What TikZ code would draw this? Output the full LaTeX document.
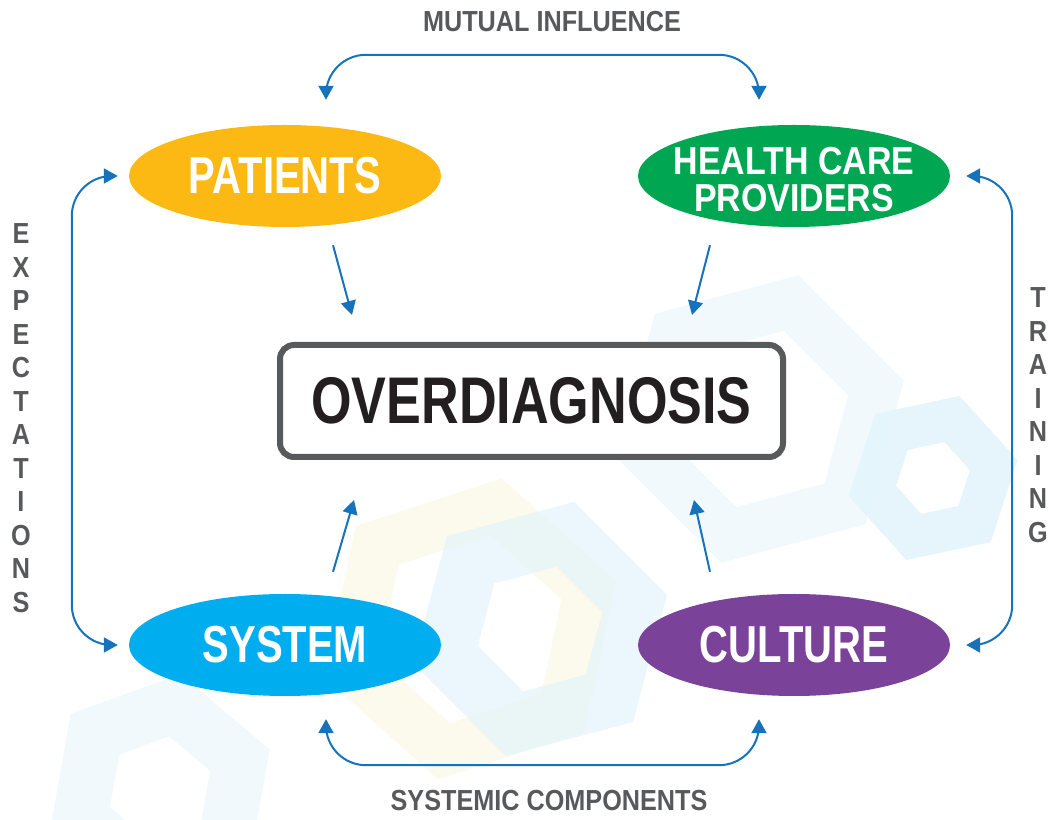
\documentclass[tikz,border=0pt]{standalone}
\usepackage{fontspec}
\setmainfont{Liberation Sans}
\newfontfamily\ovalfont{Liberation Sans}[FakeStretch=0.77]
\newfontfamily\titlefont{Liberation Sans}[FakeStretch=0.79]
\newfontfamily\widefont{Liberation Sans}[FakeStretch=0.87]
\usetikzlibrary{arrows.meta}
\usetikzlibrary{shapes.geometric}

\definecolor{patyellow}{HTML}{FDB913}
\definecolor{hcpgreen}{HTML}{00A651}
\definecolor{syscyan}{HTML}{00AEEF}
\definecolor{culpurple}{HTML}{7A4399}
\definecolor{linkblue}{HTML}{1672BA}
\definecolor{labelgray}{HTML}{58595B}
\definecolor{boxgray}{HTML}{58595B}
\definecolor{textblack}{HTML}{231F20}
\definecolor{hexblue}{HTML}{E3F4FB}
\definecolor{hexyellow}{HTML}{FBFAEC}

\tikzset{
    actor/.style={ellipse, minimum width=312pt, minimum height=102pt, inner sep=0pt,
        text=white, font=\ovalfont\bfseries\fontsize{52}{52}\selectfont, align=center},
    sidelabel/.style={text=labelgray, font=\widefont\bfseries\fontsize{29}{33.5}\selectfont, align=center},
    link/.style={draw=linkblue, line width=2pt, -{Triangle[width=15pt,length=14pt]}},
    twoway/.style={link, {Triangle[width=15pt,length=14pt]}-{Triangle[width=15pt,length=14pt]}},
    bghex/.style={line width=#1, line join=miter},
}

\begin{document}
\begin{tikzpicture}[x=1pt, y=1pt]
        \useasboundingbox (0, 0) rectangle (1049, 819);

        % faint hexagons behind everything
        \draw[bghex=42pt, draw=hexblue, opacity=0.9, shift={(933, 341)}, rotate=12]
            (0:62) -- (60:62) -- (120:62) -- (180:62) -- (240:62) -- (300:62) -- cycle;
        \draw[bghex=50pt, draw=hexyellow, shift={(470, 190)}, rotate=18]
            (0:125) -- (60:125) -- (120:125) -- (180:125) -- (240:125) -- (300:125) -- cycle;
        \draw[bghex=58pt, draw=hexblue, opacity=0.7, shift={(540, 190)}, rotate=15]
            (0:98) -- (60:98) -- (120:98) -- (180:98) -- (240:98) -- (300:98) -- cycle;
        \draw[bghex=50pt, draw=hexblue, opacity=0.5, shift={(760, 400)}, rotate=15]
            (0:120) -- (60:120) -- (120:120) -- (180:120) -- (240:120) -- (300:120) -- cycle;
        \draw[bghex=55pt, draw=hexblue, opacity=0.5, shift={(160, 30)}, rotate=20]
            (0:85) -- (60:85) -- (120:85) -- (180:85) -- (240:85) -- (300:85) -- cycle;

        \node[draw=boxgray, line width=6pt, rounded corners=14pt, fill=white,
              minimum width=503pt, minimum height=112pt, text=textblack,
              font=\titlefont\bfseries\fontsize{66}{66}\selectfont] (over) at (531.5, 418) {OVERDIAGNOSIS};

        \node[actor, fill=patyellow] (pat) at (285, 643) {PATIENTS};
        \node[actor, fill=hcpgreen] (hcp) at (794, 643) {};
        \node[text=white, font=\widefont\bfseries\fontsize{39}{37}\selectfont, align=center]
            (hcptext) at ([yshift=-4pt]hcp.center) {HEALTH CARE\\PROVIDERS};
        \node[actor, fill=syscyan] (sys) at (285, 174) {SYSTEM};
        \node[actor, fill=culpurple] (cul) at (794, 174) {CULTURE};

        \node[sidelabel] (mutual) at (552, 797) {MUTUAL INFLUENCE};
        \node[sidelabel] (compon) at (549, 18) {SYSTEMIC COMPONENTS};
        \node[sidelabel] (expect) at (21, 401) {E\\X\\P\\E\\C\\T\\A\\T\\I\\O\\N\\S};
        \node[sidelabel] (train) at (1038, 404) {T\\R\\A\\I\\N\\I\\N\\G};

        \begin{scope}[rounded corners=40pt]
            \draw[twoway] ([xshift=41pt, yshift=25pt]pat.north) -- ++(0, 45) -| ([xshift=-35pt, yshift=25pt]hcp.north);
            \draw[twoway] ([xshift=41pt, yshift=-23pt]sys.south) -- ++(0, -46) -| ([xshift=-35pt, yshift=-23pt]cul.south);
            \draw[twoway] ([xshift=-11pt]pat.west) -- ++(-46, 0) |- ([xshift=-11pt]sys.west);
            \draw[twoway] ([xshift=16pt]hcp.east) -- ++(46, 0) |- ([xshift=16pt]cul.east);
        \end{scope}

        \draw[link] ([xshift=48pt, yshift=-18pt]pat.south) -- ([xshift=-179.5pt, yshift=27pt]over.north);
        \draw[link] ([xshift=-84pt, yshift=-18pt]hcp.south) -- ([xshift=160.5pt, yshift=27pt]over.north);
        \draw[link] ([xshift=48pt, yshift=22pt]sys.north) -- ([xshift=-177.5pt, yshift=-40pt]over.south);
        \draw[link] ([xshift=-84pt, yshift=22pt]cul.north) -- ([xshift=162.5pt, yshift=-40pt]over.south);

    \end{tikzpicture}
\end{document}
